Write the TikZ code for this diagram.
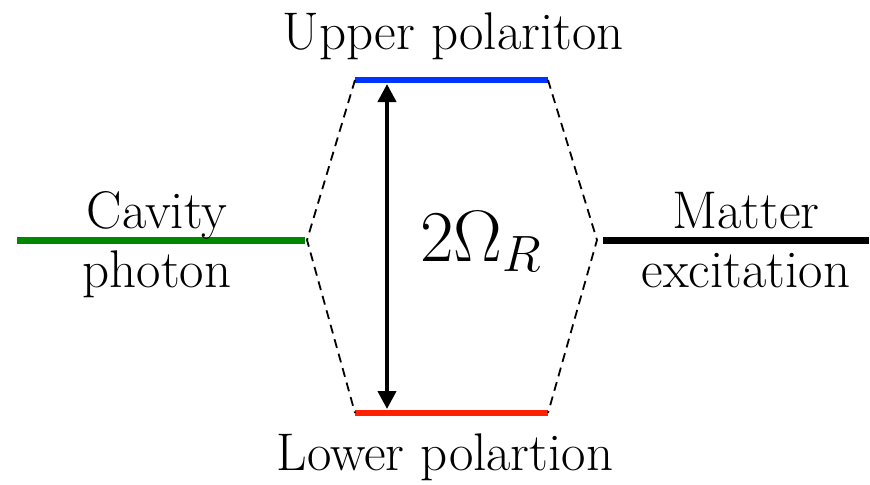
\documentclass[tikz,border=0pt]{standalone}
\usepackage{fix-cm}
\usetikzlibrary{arrows.meta}
\definecolor{cavgreen}{RGB}{0,136,0}
\definecolor{upblue}{RGB}{0,51,255}
\definecolor{lowred}{RGB}{255,34,0}
\tikzset{
    level/.style={line width=3.2pt},
    mix/.style={dashed, line width=0.9pt, dash pattern=on 4.5pt off 3pt},
    lbl/.style={font=\fontsize{26.5}{31}\selectfont, anchor=base, inner sep=0pt}
}
\begin{document}
\begin{tikzpicture}[x=0.5pt,y=-0.5pt]
    \useasboundingbox (0,0) rectangle (870,484);
    % Bare levels
    \coordinate (CavL) at (17,240);
    \coordinate (CavR) at (305,240);
    \coordinate (MatL) at (603,240);
    \coordinate (MatR) at (869,240);
    \draw[level, cavgreen, line width=3.5pt] (CavL) -- (CavR);
    \draw[level, black, line width=3.5pt] (MatL) -- (MatR);
    % Polariton levels
    \coordinate (UpL) at (355,80);
    \coordinate (UpR) at (548,80);
    \coordinate (LoL) at (355,413);
    \coordinate (LoR) at (548,413);
    \draw[level, upblue] (UpL) -- (UpR);
    \draw[level, lowred] (LoL) -- (LoR);
    % Mixing lines
    \coordinate (CavV) at (307,240);
    \coordinate (MatV) at (597,240);
    \draw[mix] (UpL) -- (CavV) -- (LoL);
    \draw[mix] (UpR) -- (MatV) -- (LoR);
    % Splitting
    \coordinate (ArrT) at (387,84);
    \coordinate (ArrB) at (387,409);
    \draw[line width=2pt, {Triangle[width=9pt,length=9pt]}-{Triangle[width=9pt,length=9pt]}] (ArrT) -- (ArrB);
    \node[anchor=base, inner sep=0pt, font=\fontsize{36.5}{42}\selectfont] (split) at (481,261) {$2\Omega_R$};
    % Labels
    \node[lbl] (up) at (453,49) {Upper polariton};
    \node[lbl] (low) at (445,470) {Lower polartion};
    \node[lbl] (cav1) at (157,228) {Cavity};
    \node[lbl] (cav2) at (157,287) {photon};
    \node[lbl] (mat1) at (746,228) {Matter};
    \node[lbl] (mat2) at (746,287) {excitation};
\end{tikzpicture}
\end{document}
